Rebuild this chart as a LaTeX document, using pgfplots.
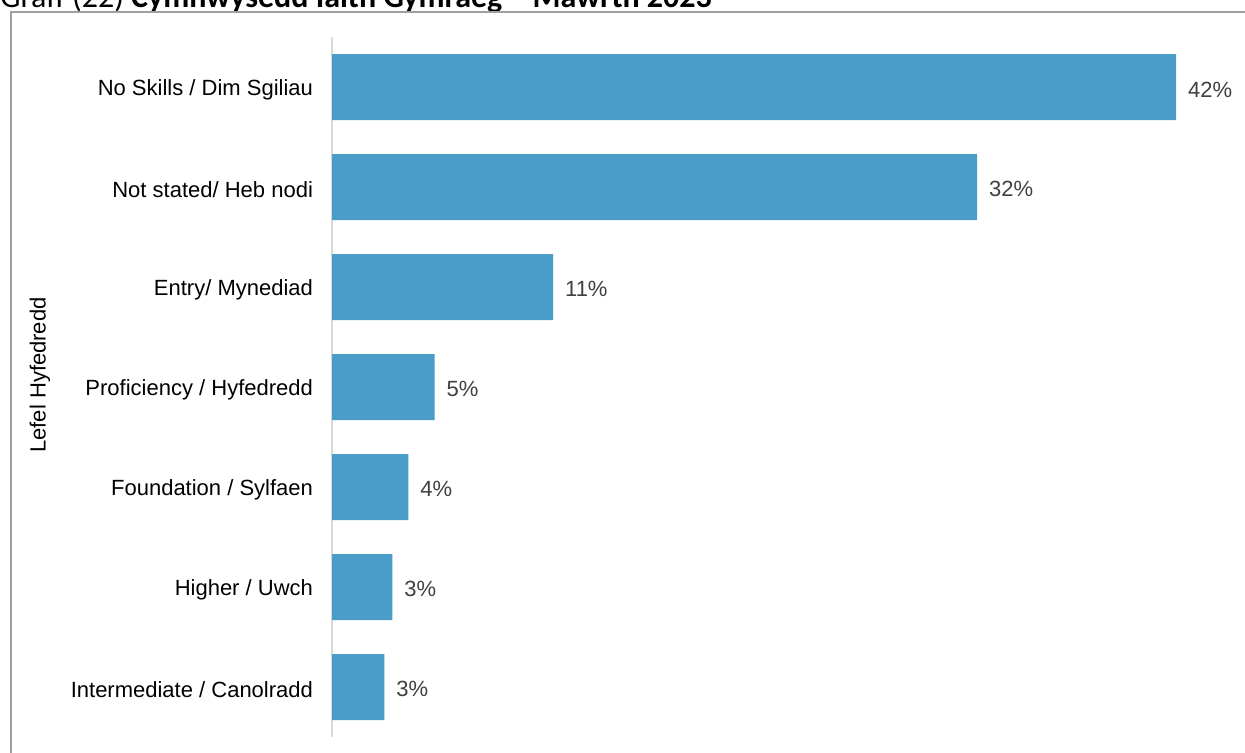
\documentclass[border=0pt]{standalone}
\usepackage{pgfplots}
\pgfplotsset{compat=1.18}
\usepackage{pgfplotstable}
\usepackage{fontspec}
\setmainfont{Liberation Sans}
\newfontfamily\titlefont{Carlito}
\definecolor{barblue}{HTML}{4A9CC9}
\definecolor{valgray}{HTML}{404040}
\definecolor{framegray}{HTML}{A0A0A0}
\definecolor{axisgray}{HTML}{D9D9D9}

\pgfplotstableread{
idx value label
0 42.0 42\%
1 32.1 32\%
2 11.0 11\%
3 5.1 5\%
4 3.8 4\%
5 3.0 3\%
6 2.6 3\%
}\datatable

\begin{document}
\begin{tikzpicture}
\useasboundingbox (0,0) rectangle (622.5pt,-376.5pt);
\clip (0,0) rectangle (622.5pt,-376.5pt);
\node[anchor=base west, inner sep=0pt, font=\titlefont\fontsize{16}{19}\selectfont] at (0pt,-4pt) {Graff (22) \textbf{Cymhwysedd Iaith Gymraeg – Mawrth 2023}};
\draw[framegray, line width=1.1pt] (5.5pt,-6pt) rectangle (640pt,-400pt);
\node[rotate=90, font=\fontsize{11}{13}\selectfont, text=black] at (20pt,-187.5pt) {Lefel Hyfedredd};
\begin{axis}[
  at={(166pt,-368.5pt)}, anchor=south west,
  scale only axis, width=452.2pt, height=350pt,
  xbar, bar width=33pt, bar shift=0pt,
  xmin=0, xmax=45, ymin=-0.5, ymax=6.5,
  y dir=reverse,
  axis lines*=left,
  x axis line style={draw=none},
  y axis line style={draw=axisgray, line width=1pt},
  xtick=\empty,
  ytick={0,...,6},
  yticklabels={No Skills / Dim Sgiliau, Not stated/ Heb nodi, Entry/ Mynediad, Proficiency / Hyfedredd, Foundation / Sylfaen, Higher / Uwch, Intermediate / Canolradd},
  major tick length=0pt,
  yticklabel style={font=\fontsize{11}{13}\selectfont, text=black, xshift=-6pt, yshift=-1.5pt},
  nodes near coords,
  point meta=explicit symbolic,
  nodes near coords style={font=\fontsize{11}{13}\selectfont, text=valgray, anchor=west, xshift=2.5pt, yshift=-1.2pt},
  clip=false,
]
\addplot[fill=barblue, draw=none] table[x=value, y=idx, meta=label] {\datatable};
\end{axis}
\end{tikzpicture}
\end{document}
